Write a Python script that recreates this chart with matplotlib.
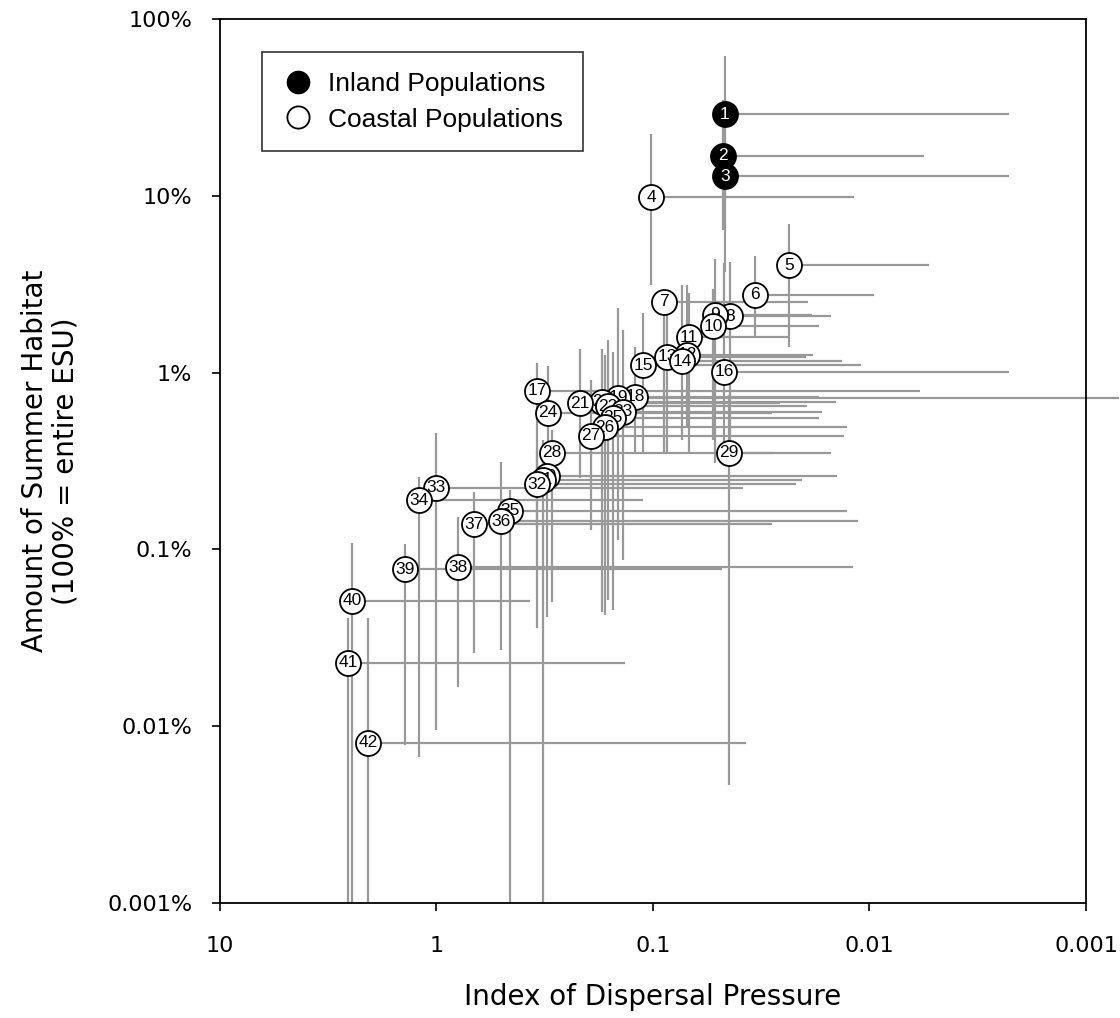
import matplotlib
matplotlib.use('Agg')
import matplotlib.pyplot as plt
from matplotlib.lines import Line2D
from matplotlib.ticker import FixedLocator, NullLocator

# ---------------- data ----------------
pop_ids = list(range(1, 43))
groups = ['inland'] * 3 + ['coastal'] * 39
# index of dispersal pressure (point) and its lower bound (bars run toward smaller values)
dispersal = [0.0465, 0.0475, 0.0465, 0.102, 0.0235, 0.0338, 0.0890, 0.0441, 0.0517, 0.0528,
             0.0682, 0.0697, 0.0861, 0.0735, 0.111, 0.047, 0.343, 0.121, 0.145, 0.172,
             0.217, 0.161, 0.138, 0.305, 0.153, 0.167, 0.193, 0.293, 0.0446, 0.309,
             0.322, 0.343, 1.005, 1.205, 0.457, 0.504, 0.671, 0.796, 1.398, 2.457,
             2.563, 2.072]
dispersal_low = [0.00227, 0.0056, 0.00227, 0.0118, 0.00531, 0.00953, 0.0192, 0.0151, 0.0184, 0.0171,
                 0.0238, 0.0182, 0.0197, 0.0134, 0.0109, 0.00227, 0.00584, 0.0171, 0.0007, 0.0143,
                 0.0259, 0.0194, 0.0166, 0.0282, 0.0171, 0.0127, 0.0131, 0.0276, 0.0151, 0.0141,
                 0.0205, 0.0219, 0.0384, 0.111, 0.0127, 0.0113, 0.0282, 0.0119, 0.048, 0.370,
                 0.135, 0.0372]
# amount of summer habitat (% of ESU) with lower / upper bounds
habitat = [29.0, 16.8, 12.9, 9.84, 4.06, 2.75, 2.51, 2.09, 2.12, 1.83,
           1.59, 1.26, 1.23, 1.16, 1.10, 1.01, 0.787, 0.728, 0.72, 0.682,
           0.673, 0.647, 0.599, 0.591, 0.554, 0.492, 0.438, 0.351, 0.351, 0.260,
           0.247, 0.234, 0.2225, 0.190, 0.165, 0.1447, 0.139, 0.0795, 0.0774, 0.0511,
           0.0228, 0.00804]
habitat_low = [9.47, 6.41, 3.71, 3.13, 1.40, 1.57, 0.351, 0.416, 0.308, 0.416,
               0.351, 0.492, 0.351, 0.416, 0.354, 0.351, 0.132, 0.354, 0.113, 0.0443,
               0.253, 0.0517, 0.0871, 0.247, 0.0454, 0.0426, 0.1288, 0.0504, 0.00465, 0.0415,
               0.001, 0.0359, 0.00952, 0.00669, 0.001, 0.0270, 0.0259, 0.0167, 0.00783, 0.001,
               0.001, 0.001]
habitat_high = [61.8, 34.8, 20.7, 22.4, 6.93, 4.56, 2.86, 4.22, 4.39, 2.97,
                2.82, 3.13, 2.57, 3.13, 2.17, 4.17, 1.13, 1.40, 2.32, 1.36,
                1.36, 1.53, 1.74, 1.09, 1.31, 1.26, 0.908, 0.473, 0.747, 0.390,
                0.416, 0.365, 0.456, 0.257, 0.217, 0.312, 0.211, 0.1525, 0.107, 0.1087,
                0.0409, 0.0409]

x_ticks = [10, 1, 0.1, 0.01, 0.001]
x_ticklabels = ['10', '1', '0.1', '0.01', '0.001']
y_ticks = [100, 10, 1, 0.1, 0.01, 0.001]
y_ticklabels = ['100%', '10%', '1%', '0.1%', '0.01%', '0.001%']

# ---------------- figure ----------------
fig = plt.figure(figsize=(11.2, 10.18), dpi=100)
ax = fig.add_axes([0.1964, 0.113, 0.7732, 0.8683])
ax.set_xscale('log')
ax.set_yscale('log')
ax.set_xlim(10, 0.001)
ax.set_ylim(0.001, 100)

bar_color = '#999999'
for i in range(len(pop_ids)):
    xerr = [[dispersal[i] - dispersal_low[i]], [0]]
    yerr = [[habitat[i] - habitat_low[i]], [habitat_high[i] - habitat[i]]]
    eb = ax.errorbar([dispersal[i]], [habitat[i]], xerr=xerr,
                     yerr=yerr, fmt='none', ecolor=bar_color, elinewidth=1.6,
                     capsize=0, zorder=2)
    for coll in eb[2]:
        coll.set_clip_on(False)

for i, pid in enumerate(pop_ids):
    inland = groups[i] == 'inland'
    z = 10 + i
    ax.plot([dispersal[i]], [habitat[i]], 'o', ms=18,
            mfc='black' if inland else 'white', mec='black', mew=1.3, zorder=z)
    ax.text(dispersal[i], habitat[i], str(pid), ha='center', va='center',
            fontsize=12.5, family='Liberation Sans',
            color='white' if inland else 'black', zorder=z + 0.5)

ax.xaxis.set_major_locator(FixedLocator(x_ticks))
ax.yaxis.set_major_locator(FixedLocator(y_ticks))
ax.xaxis.set_minor_locator(NullLocator())
ax.yaxis.set_minor_locator(NullLocator())
ax.set_xticklabels(x_ticklabels, fontsize=16, family='DejaVu Sans')
ax.set_yticklabels(y_ticklabels, fontsize=16, family='DejaVu Sans')
ax.tick_params(axis='x', direction='out', length=6, width=1.2, pad=18)
ax.tick_params(axis='y', direction='out', length=6, width=1.2, pad=14)
for s in ax.spines.values():
    s.set_linewidth(1.3)
    s.set_color('black')

ax.set_xlabel('Index of Dispersal Pressure', fontsize=20, labelpad=19)
ax.set_ylabel('Amount of Summer Habitat\n(100% = entire ESU)', fontsize=20,
              labelpad=20, linespacing=1.1)

handles = [Line2D([], [], marker='o', ls='none', ms=16, mfc='black', mec='black'),
           Line2D([], [], marker='o', ls='none', ms=16, mfc='white', mec='black', mew=1.3)]
leg = ax.legend(handles, ['Inland Populations', 'Coastal Populations'],
                loc='upper left', bbox_to_anchor=(0.0485, 0.9627),
                prop={'family': 'Liberation Sans', 'size': 19},
                frameon=True, fancybox=False, edgecolor='black',
                borderpad=0.75, handlelength=1.2, handletextpad=0.55,
                labelspacing=0.45, borderaxespad=0)
leg.get_frame().set_linewidth(1.2)
leg.set_zorder(100)

fig.savefig('out.png', dpi=100)
